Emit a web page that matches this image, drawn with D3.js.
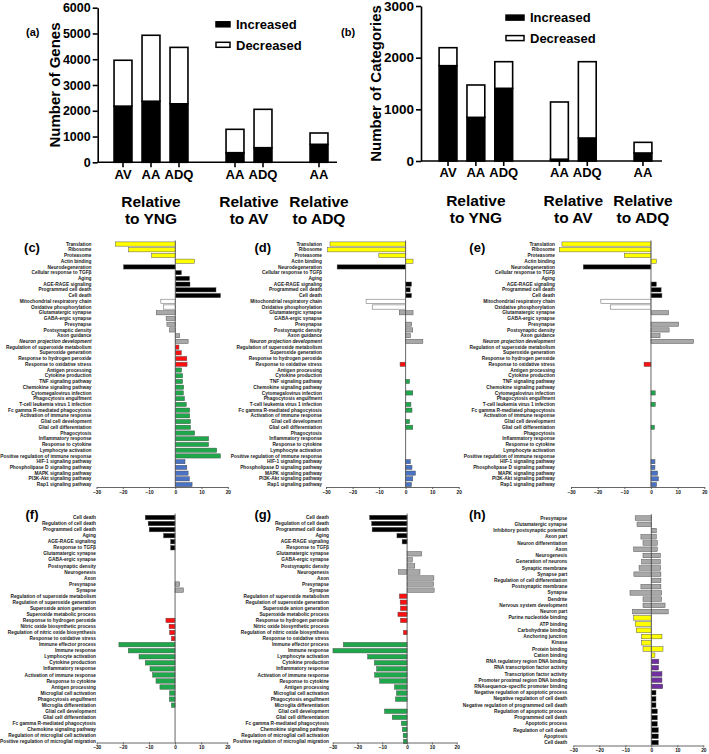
<!DOCTYPE html>
<html><head><meta charset="utf-8">
<script src="https://cdn.jsdelivr.net/npm/d3@7"></script>
<style>
body{margin:0;background:#fff}
svg{display:block}
text{font-family:"Liberation Sans",Arial,Helvetica,sans-serif}
</style>
</head><body>
<svg id="fig" width="709" height="754"></svg>
<script>
// ---------------- DATA ----------------
// Panels (a) and (b): stacked columns
const slotKeys = ["YNG_AV","YNG_AA","YNG_ADQ","gap1","AV_AA","AV_ADQ","gap2","ADQ_AA"];
const barKeys = ["YNG_AV","YNG_AA","YNG_ADQ","AV_AA","AV_ADQ","ADQ_AA"];
const barLabels = ["AV","AA","ADQ","AA","ADQ","AA"];
const groupLabels = [["Relative","to YNG"],["Relative","to AV"],["Relative","to ADQ"]];
const groupMembers = [["YNG_AV","YNG_ADQ"],["AV_AA","AV_ADQ"],["ADQ_AA","ADQ_AA"]];
const seriesNames = ["Increased","Decreased"];

const genesIncreased = [2180, 2370, 2270, 373, 567, 698];
const genesDecreased = [1780, 2560, 2190, 907, 1489, 439];
const genesTicks = [0,1000,2000,3000,4000,5000,6000];

const catsIncreased = [1845, 845, 1407, 35, 445, 155];
const catsDecreased = [348, 626, 515, 1107, 1477, 206];
const catsTicks = [0,1000,2000,3000];

// Panels (c)-(e): horizontal bars, shared categories
const cdeLabels = ["Translation","Ribosome","Proteasome","Actin binding","Neurodegeneration",
 "Cellular response to TGFβ","Aging","AGE-RAGE signaling","Programmed cell death","Cell death",
 "Mitochondrial respiratory chain","Oxidative phosphorylation","Glutamatergic synapse","GABA-ergic synapse",
 "Presynapse","Postsynaptic density","Axon guidance","Neuron projection development",
 "Regulation of superoxide metabolism","Superoxide generation","Response to hydrogen peroxide",
 "Response to oxidative stress","Antigen processing","Cytokine production","TNF signaling pathway",
 "Chemokine signaling pathway","Cytomegalovirus infection","Phagocytosis engulfment",
 "T-cell leukemia virus 1 infection","Fc gamma R-mediated phagocytosis","Activation of immune response",
 "Glial cell development","Glial cell differentiation","Phagocytosis","Inflammatory response",
 "Response to cytokine","Lymphocyte activation","Positive regulation of immune response",
 "HIF-1 signaling pathway","Phospholipase D signaling pathway","MAPK signaling pathway",
 "PI3K-Akt signaling pathway","Rap1 signaling pathway"];
const cdeGroups = [].concat(
 Array(4).fill("yellow"), Array(6).fill("black"), Array(2).fill("white"),
 Array(6).fill("grey"), Array(4).fill("red"), Array(16).fill("green"), Array(5).fill("blue"));
const cdeItalic = ["Neuron projection development"];

const cValues = [-22.8,-17.8,-9.0,7.3,-19.7,2.3,5.4,5.6,15.5,17.2,-5.5,-4.5,-7.2,-3.5,-3.2,-2.2,1.7,4.9,
 1.4,2.3,4.4,4.5,2.4,2.8,2.8,3.2,3.1,3.5,4.2,5.5,5.5,5.8,5.8,7.4,12.7,12.7,15.8,17.2,3.7,4.4,4.9,5.4,6.4];
const dValues = [-28.5,-29.4,-10.1,2.8,-25.8,0,0,2.2,1.7,2.2,-14.9,-12.6,[-2.4,2.8],0,2.3,2.7,1.8,6.5,
 0,0,0,-2.1,0,0,1.5,0,2.7,0,2.0,2.4,0,1.5,2.7,0,0,0,0,0,1.8,2.4,3.7,2.7,2.2];
const eValues = [-33.4,-34.4,-10.0,2.0,-25.4,0,0,2.0,3.8,4.1,-18.8,-15.1,6.6,0,10.4,6.8,3.4,16.0,
 0,0,0,-2.6,0,0,0,0,1.6,0,1.6,0,0,0,1.3,0,0,0,0,0,1.5,1.5,2.5,2.8,2.1];

// Panels (f)-(g)
const fgLabels = ["Cell death","Regulation of cell death","Programmed cell death","Aging","AGE-RAGE signaling",
 "Response to TGFβ","Glutamatergic synapse","GABA-ergic synapse","Postsynaptic density","Neurogenesis",
 "Axon","Presynapse","Synapse","Regulation of superoxide metabolism","Regulation of superoxide generation",
 "Superoxide anion generation","Superoxide metabolic process","Response to hydrogen peroxide",
 "Nitric oxide biosynthetic process","Regulation of nitric oxide biosynthesis","Response to oxidative stress",
 "Immune effector process","Immune response","Lymphocyte activation","Cytokine production",
 "Inflammatory response","Activation of immune response","Response to cytokine","Antigen processing",
 "Microglial cell activation","Phagocytosis engulfment","Microglia differentiation","Glial cell development",
 "Glial cell differentiation","Fc gamma R-mediated phagocytosis","Chemokine signaling pathway",
 "Regulation of microglial cell activation","Positive regulation of microglial migration"];
const fgGroups = [].concat(Array(6).fill("black"), Array(7).fill("grey"), Array(8).fill("red"), Array(17).fill("green"));

const fValues = [-11.4,-10.3,-9.9,-4.4,-1.7,-1.7,0,0,0,0,0,1.8,3.2,0,0,0,0,-3.5,-2.3,-2.1,-1.4,
 -21.5,-17.9,-13.8,-11.4,-9.6,-8.6,-7.3,-5.8,-2.1,-2.2,-1.4,0,0,0,0,0,0];
const gValues = [-15.1,-14.3,-14.1,-4.1,-2.0,0,5.9,2.1,3.1,[-3.5,5.2],10.8,10.7,10.9,-3.1,-2.8,-2.7,-3.7,-2.7,0,-1.5,0,
 -25.7,-29.9,-15.9,-13.2,-12.3,-13.1,-11.1,-5.1,-4.3,-4.7,0,-9.1,-6.0,-2.3,-1.9,-1.6,-1.5];

// Panel (h)
const hLabels = ["Presynapse","Glutamatergic synapse","Inhibitory postsynaptic potential","Axon part",
 "Neuron differentiation","Axon","Neurogenesis","Generation of neurons","Synaptic membrane","Synapse part",
 "Regulation of cell differentiation","Postsynaptic membrane","Synapse","Dendrite","Nervous system development",
 "Neuron part","Purine nucleotide binding","ATP binding","Carbohydrate binding","Anchoring junction","Kinase",
 "Protein binding","Cation binding","RNA regulatory region DNA binding","RNA transcription factor activity",
 "Transcription factor activity","Promoter proximal region DNA binding","RNAsequence-specific  promoter binding",
 "Negative regulation of apoptotic process","Negative regulation of cell death",
 "Negative regulation of programmed cell death","Regulation of apoptotic process","Programmed cell death",
 "Apoptotic process","Regulation of cell death","Apoptosis","Cell death"];
const hGroups = [].concat(Array(16).fill("grey"), Array(7).fill("yellow"), Array(5).fill("purple"), Array(9).fill("black"));
const hValues = [-6.2,-5.5,1.9,[-4.0,1.9],[-3.2,2.3],[-6.8,2.3],[-3.2,3.5],[-3.7,3.5],[-4.7,3.6],[-6.7,3.7],3.7,
 [-4.0,3.7],[-8.2,4.0],[-3.2,4.0],[-3.2,5.3],[-7.2,6.5],-6.8,-6.2,-5.8,[-3.7,4.1],-3.7,[-3.2,4.5],1.4,
 2.9,2.8,4.1,4.1,4.4,1.8,1.8,1.8,2.3,2.3,2.3,2.7,2.7,2.7];

const hTicks = [-30,-20,-10,0,10,20];

// ---------------- STYLE ----------------
const groupColor = {yellow:"#ffff00", black:"#000000", white:"#ffffff", grey:"#a8a8a8",
  red:"#ff1010", green:"#1fa84b", blue:"#4a73c6", purple:"#7030a0"};

const svg = d3.select("#fig");

// ---------------- COLUMN PANELS ----------------
function columnPanel(cfg){
  const g = svg.append("g");
  const y = d3.scaleLinear().domain([0, cfg.yMax]).range([cfg.yBottom, cfg.yTop]);
  const x = d3.scaleBand().domain(slotKeys).range(cfg.xRange).paddingInner(0.36).paddingOuter(0.18);
  const bw = x.bandwidth();
  const rows = barKeys.map((k,i)=>({k, inc: cfg.inc[i], dec: cfg.dec[i]}));
  g.selectAll("rect.inc").data(rows).join("rect")
    .attr("x", d=>x(d.k)).attr("width", bw)
    .attr("y", d=>y(d.inc)).attr("height", d=>y(0)-y(d.inc))
    .attr("fill","#000").attr("stroke","#000").attr("stroke-width",1.6);
  g.selectAll("rect.dec").data(rows).join("rect")
    .attr("x", d=>x(d.k)).attr("width", bw)
    .attr("y", d=>y(d.inc+d.dec)).attr("height", d=>y(d.inc)-y(d.inc+d.dec))
    .attr("fill","#fff").attr("stroke","#000").attr("stroke-width",1.6);
  // y axis
  const ya = g.append("g").attr("transform",`translate(${cfg.axisX},0)`)
    .call(d3.axisLeft(y).tickValues(cfg.ticks).tickFormat(d3.format("d")).tickSize(5).tickSizeOuter(0).tickPadding(2));
  ya.selectAll("path,line").attr("stroke","#000").attr("stroke-width",1.6);
  ya.selectAll("text").attr("font-size",cfg.tickFont).attr("font-weight","bold").attr("fill","#000");
  // x axis
  g.append("line").attr("x1",cfg.axisX).attr("x2",cfg.axisEnd).attr("y1",y(0)).attr("y2",y(0))
    .attr("stroke","#000").attr("stroke-width",1.6);
  const xa = g.append("g").attr("transform",`translate(0,${y(0)})`)
    .call(d3.axisBottom(x).tickValues(barKeys).tickFormat((k)=>barLabels[barKeys.indexOf(k)]).tickSize(5).tickPadding(2));
  xa.select(".domain").remove();
  xa.selectAll("line").attr("stroke","#000").attr("stroke-width",1.6);
  xa.selectAll("text").attr("font-size",13).attr("font-weight","bold").attr("fill","#000");
  // group labels
  groupLabels.forEach((lines,i)=>{
    const cx = (x(groupMembers[i][0]) + x(groupMembers[i][1]))/2 + bw/2;
    lines.forEach((t,j)=>{
      g.append("text").attr("x",cx).attr("y",cfg.groupY + j*17).attr("text-anchor","middle")
        .attr("font-size",15.5).attr("font-weight","bold").text(t);
    });
  });
  // y label
  g.append("text").attr("transform",`translate(${cfg.yLabelX},${(cfg.yBottom+cfg.yTop)/2}) rotate(-90)`)
    .attr("text-anchor","middle").attr("font-size",15).attr("font-weight","bold").text(cfg.yLabel);
  // legend
  seriesNames.forEach((s,i)=>{
    const ly = cfg.legendY + i*20.5;
    g.append("rect").attr("x",cfg.legendX).attr("y",ly-2.7).attr("width",cfg.swW).attr("height",5)
      .attr("fill", i===0?"#000":"#fff").attr("stroke","#000").attr("stroke-width",1.5);
    g.append("text").attr("x",cfg.legendX+cfg.swW+6).attr("y",ly+4.6).attr("font-size",13)
      .attr("font-weight","bold").text(s);
  });
  g.append("text").attr("x",cfg.tagX).attr("y",cfg.tagY).attr("font-size",11).attr("font-weight","bold").text(cfg.tag);
}

columnPanel({inc:genesIncreased, dec:genesDecreased, yMax:6000, ticks:genesTicks, yBottom:162.3, yTop:7.7,
  xRange:[109,333], axisX:97.7, axisEnd:337, tickFont:12.5, groupY:207, yLabel:"Number of Genes", yLabelX:60,
  legendX:216, legendY:24.5, swW:14, tag:"(a)", tagX:26, tagY:36});
columnPanel({inc:catsIncreased, dec:catsDecreased, yMax:3000, ticks:catsTicks, yBottom:161, yTop:6,
  xRange:[434.1,656.9], axisX:421, axisEnd:662, tickFont:13.5, groupY:205.5, yLabel:"Number of Categories", yLabelX:381,
  legendX:506, legendY:17.8, swW:18, tag:"(b)", tagX:341, tagY:36});

// ---------------- HORIZONTAL BAR PANELS ----------------
function hbarPanel(cfg){
  const g = svg.append("g");
  const n = cfg.labels.length;
  const step = (cfg.lastY - cfg.firstY)/(n-1);
  const yb = d3.scaleBand().domain(d3.range(n)).range([cfg.firstY - step/2, cfg.lastY + step/2]).padding(0.26);
  const x = d3.scaleLinear().domain([-30,20]).range(cfg.xRange);
  const bars = [];
  cfg.values.forEach((v,i)=>{
    const arr = Array.isArray(v) ? v : [v];
    arr.forEach(val=>{ if(val!==0) bars.push({i, v:val, grp: cfg.groups[i]}); });
  });
  g.selectAll("rect").data(bars).join("rect")
    .attr("x", d=>x(Math.min(0,d.v))).attr("width", d=>Math.abs(x(d.v)-x(0)))
    .attr("y", d=>yb(d.i)).attr("height", yb.bandwidth())
    .attr("fill", d=>groupColor[d.grp]).attr("stroke","#4a4a4a").attr("stroke-width",0.45);
  g.selectAll("text.lab").data(cfg.labels).join("text")
    .attr("x", cfg.labelEnd).attr("y", (d,i)=>yb(i)+yb.bandwidth()/2 + 1.6)
    .attr("text-anchor","end").attr("font-size",4.8).attr("font-weight","bold").attr("fill","#1a1a1a")
    .attr("font-style", d=> (cfg.italic||[]).includes(d) ? "italic" : "normal")
    .text(d=>d);
  g.append("line").attr("x1",x(0)).attr("x2",x(0)).attr("y1",cfg.firstY - step/2).attr("y2",cfg.axisY)
    .attr("stroke","#555").attr("stroke-width",0.9);
  const xa = g.append("g").attr("transform",`translate(0,${cfg.axisY})`)
    .call(d3.axisBottom(x).tickValues(hTicks).tickSize(2).tickSizeOuter(0).tickPadding(1.5));
  xa.selectAll("path,line").attr("stroke","#555").attr("stroke-width",0.9);
  xa.selectAll("text").attr("font-size",4.8).attr("font-weight","bold").attr("fill","#111");
  g.append("text").attr("x",cfg.tagX).attr("y",cfg.tagY).attr("text-anchor","middle")
    .attr("font-size",13).attr("font-weight","bold").text(cfg.tag);
}

hbarPanel({labels:cdeLabels, groups:cdeGroups, values:cValues, italic:cdeItalic, xRange:[96.5,227.8],
  firstY:243.3, lastY:485.3, axisY:487, labelEnd:91.5, tag:"(c)", tagX:32, tagY:252});
hbarPanel({labels:cdeLabels, groups:cdeGroups, values:dValues, italic:cdeItalic, xRange:[326,458.7],
  firstY:243.3, lastY:485.3, axisY:487, labelEnd:322, tag:"(d)", tagX:262.7, tagY:252});
hbarPanel({labels:cdeLabels, groups:cdeGroups, values:eValues, italic:cdeItalic, xRange:[571,704.3],
  firstY:243.3, lastY:485.3, axisY:487, labelEnd:555, tag:"(e)", tagX:477.3, tagY:252});
hbarPanel({labels:fgLabels, groups:fgGroups, values:fValues, xRange:[96.7,227.3],
  firstY:516.7, lastY:742.3, axisY:742.5, labelEnd:96, tag:"(f)", tagX:32, tagY:518.5});
hbarPanel({labels:fgLabels, groups:fgGroups, values:gValues, xRange:[332.7,456.7],
  firstY:516.7, lastY:742.3, axisY:742.5, labelEnd:329, tag:"(g)", tagX:262.7, tagY:518.5});
hbarPanel({labels:hLabels, groups:hGroups, values:hValues, xRange:[573.3,703.3],
  firstY:517.3, lastY:743.3, axisY:745.5, labelEnd:567.3, tag:"(h)", tagX:477.3, tagY:519});
</script>
</body></html>
